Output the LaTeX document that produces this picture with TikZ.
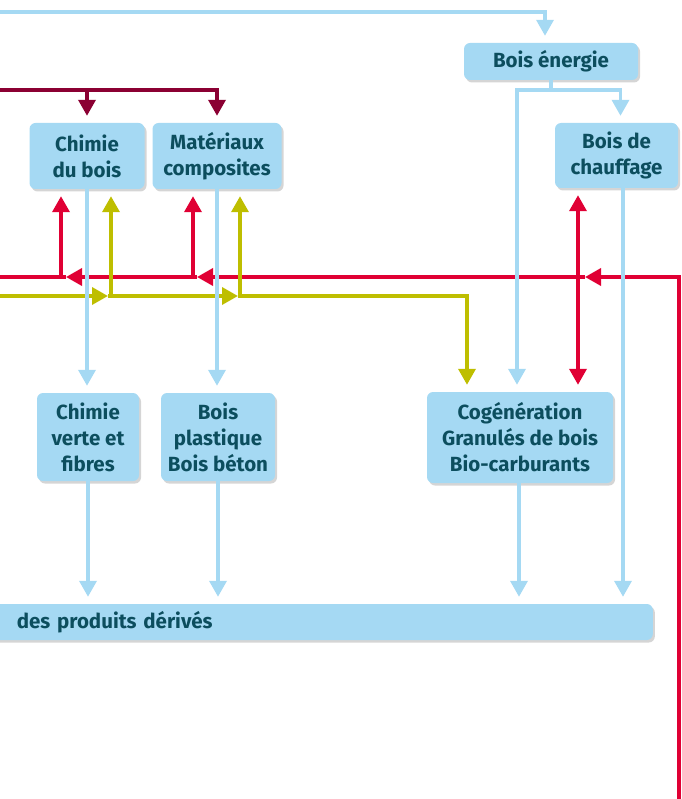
\documentclass[tikz,border=0pt]{standalone}
\usepackage{fontspec}
\setmainfont{Fira Sans}
\usetikzlibrary{arrows.meta,shadows}
\definecolor{boxblue}{RGB}{165,217,243}
\definecolor{textteal}{RGB}{12,78,94}
\definecolor{busred}{RGB}{224,0,52}
\definecolor{busolive}{RGB}{190,190,0}
\definecolor{busmaroon}{RGB}{139,0,51}
\begin{document}
\begin{tikzpicture}[x=1pt,y=-1pt,
        >={Triangle[width=17pt,length=16pt]},
        box/.style={fill=boxblue, rounded corners=6pt, text=textteal, inner sep=0pt,
                font=\bfseries\fontsize{20.5}{26}\selectfont, align=center,
                drop shadow={shadow xshift=2pt, shadow yshift=-2.5pt, fill=black!30, opacity=0.55}},
        flow/.style={line width=3.5pt, shorten >=7pt},
        bus/.style={shorten >=0pt},
        blueline/.style={flow, draw=boxblue},
        redline/.style={flow, draw=busred},
        oliveline/.style={flow, draw=busolive},
        maroonline/.style={flow, draw=busmaroon}]
        \useasboundingbox (0,0) rectangle (681,799);

        %boxes
        \node[box, minimum width=174pt, minimum height=37pt] (energie) at (551,61.5) {Bois énergie};
        \node[box, minimum width=115pt, minimum height=66pt] (chimie) at (87,156) {Chimie\\du bois};
        \node[box, minimum width=129pt, minimum height=66pt] (materiaux) at (217,156) {Matériaux\\composites};
        \node[box, minimum width=123pt, minimum height=65pt] (chauffage) at (616.5,155.5) {Bois de\\chauffage};
        \node[box, minimum width=102pt, minimum height=88pt] (verte) at (88,437) {Chimie\\verte et\\fibres};
        \node[box, minimum width=114pt, minimum height=88pt] (plastique) at (218,437) {Bois\\plastique\\Bois béton};
        \node[box, minimum width=186pt, minimum height=91pt] (cogen) at (520,437.5) {Cogénération\\Granulés de bois\\Bio-carburants};
        \node[box, minimum width=680pt, minimum height=36pt, text width=592pt, align=left, anchor=east] (produits) at (653,622) {des produits dérivés};

        %maroon line from the left
        \coordinate (marin) at (0,90);
        \coordinate (mdrop) at (chimie.north |- marin);
        \draw[maroonline,->] (marin) -| (materiaux.north);
        \draw[maroonline,->] (mdrop) -- (chimie.north);

        %red line coming up on the right
        \coordinate (redin) at (679,799);
        \coordinate (redout) at (0,277);
        \coordinate (rbus3) at (585,277);
        \coordinate (rbus2) at (197,277);
        \coordinate (rbus1) at (66,277);
        \coordinate (rup1) at (61,277);
        \coordinate (rup2) at (193,277);
        \coordinate (rboth) at (578,0);
        \draw[redline,bus,->] (redin) |- (rbus3);
        \draw[redline,bus,->] (rbus3) -- (rbus2);
        \draw[redline,bus,->] (rbus2) -- (rbus1);
        \draw[redline,bus] (rbus1) -- (redout);
        \draw[redline,->] (rup1) -- (rup1 |- chimie.south);
        \draw[redline,->] (rup2) -- (rup2 |- materiaux.south);
        \draw[redline,<->,shorten <=7pt] (rboth |- chauffage.south) -- (rboth |- cogen.north);

        %olive line from the left
        \coordinate (olin) at (0,296);
        \coordinate (obus1) at (108,296);
        \coordinate (obus2) at (238,296);
        \coordinate (oup1) at (111,296);
        \coordinate (oup2) at (240,296);
        \coordinate (odown) at (467,296);
        \draw[oliveline,bus,->] (olin) -- (obus1);
        \draw[oliveline,bus,->] (obus1) -- (obus2);
        \draw[oliveline,->] (obus2) -| (odown |- cogen.north);
        \draw[oliveline,->] (oup1) -- (oup1 |- chimie.south);
        \draw[oliveline,->] (oup2) -- (oup2 |- materiaux.south);

        %blue lines
        \coordinate (topin) at (0,12);
        \coordinate (etop) at ([xshift=-6pt]energie.north);
        \draw[blueline,->] (topin) -| (etop);
        \draw[blueline,bus] (energie.south) -- ++(0,10) coordinate (esplit);
        \coordinate (cotop) at ([xshift=-3pt]cogen.north);
        \coordinate (chtop) at ([xshift=4pt]chauffage.north);
        \draw[blueline,->] (esplit) -| (cotop);
        \draw[blueline,->] (esplit) -| (chtop);
        \draw[blueline,->] (chimie.south) -- (chimie.south |- verte.north);
        \draw[blueline,->] (materiaux.south) -- (materiaux.south |- plastique.north);
        \draw[blueline,->] (verte.south) -- (verte.south |- produits.north);
        \draw[blueline,->] (plastique.south) -- (plastique.south |- produits.north);
        \draw[blueline,->] ([xshift=-1pt]cogen.south) coordinate (coout) -- (coout |- produits.north);
        \coordinate (chout) at ([xshift=6.5pt]chauffage.south);
        \draw[blueline,->] (chout) -- (chout |- produits.north);
\end{tikzpicture}
\end{document}
